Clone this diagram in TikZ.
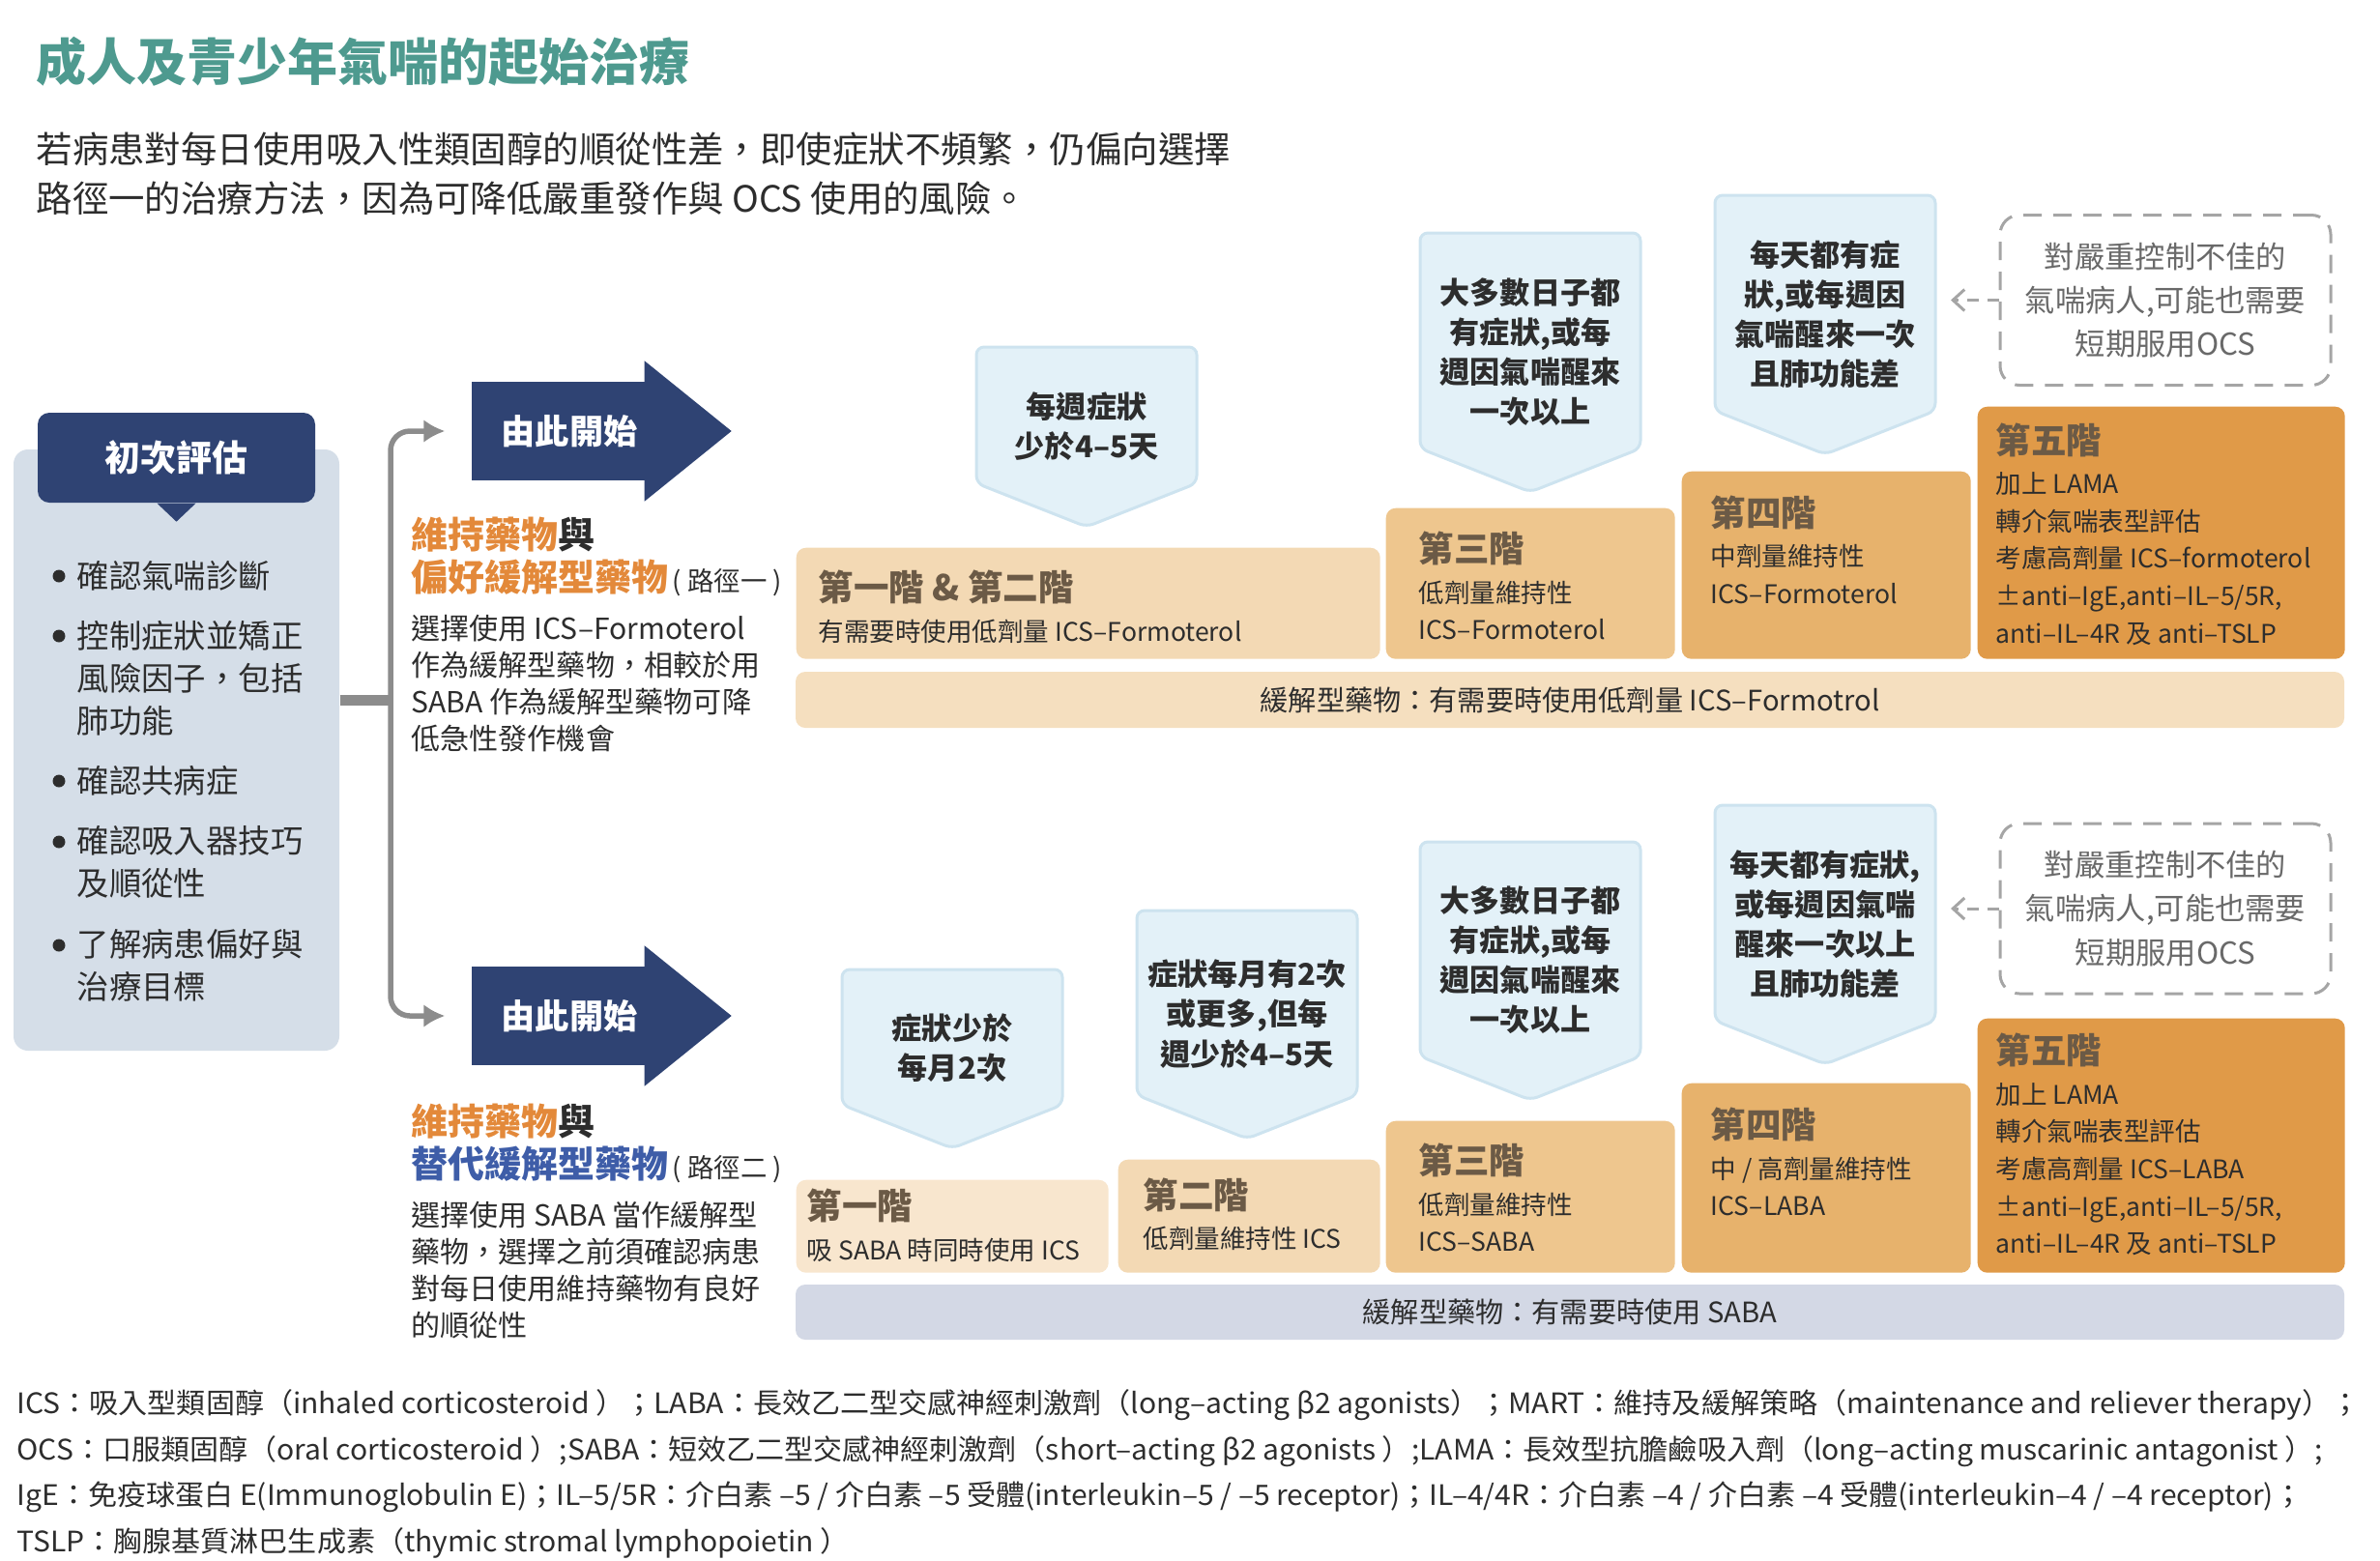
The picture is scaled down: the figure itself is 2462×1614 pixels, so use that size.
\documentclass[tikz,border=0pt]{standalone}
\usepackage{fontspec}
\setmainfont{Noto Sans CJK TC}
\newfontfamily\notefont[FakeStretch=1.03]{Noto Sans CJK TC}
\usetikzlibrary{calc, positioning, arrows.meta}
\definecolor{asthteal}{RGB}{78,154,143}
\definecolor{asthnavy}{RGB}{47,67,115}
\definecolor{asthpanel}{RGB}{213,222,232}
\definecolor{asthink}{RGB}{45,45,45}
\definecolor{asthorange}{RGB}{227,137,58}
\definecolor{asthblue}{RGB}{62,93,168}
\definecolor{asthlink}{RGB}{140,140,140}
\definecolor{asthsky}{RGB}{227,241,248}
\definecolor{asthskyline}{RGB}{205,227,239}
\definecolor{ocsline}{RGB}{165,165,165}
\definecolor{ocsink}{RGB}{105,105,105}
\definecolor{stepa}{RGB}{248,230,206}
\definecolor{stepb}{RGB}{243,217,180}
\definecolor{stepc}{RGB}{238,198,142}
\definecolor{stepd}{RGB}{231,178,108}
\definecolor{stepe}{RGB}{224,154,72}
\definecolor{reliefa}{RGB}{245,223,191}
\definecolor{reliefb}{RGB}{211,216,229}
\definecolor{stepink}{RGB}{107,90,70}
\newcommand{\steptitle}[1]{{\bfseries\fontsize{10.4}{11}\selectfont\color{stepink}#1}}
\newcommand{\pathnote}[1]{{\mdseries\fontsize{7.8}{12.5}\selectfont\color{asthink}#1}}
\tikzset{
    panelbox/.style={fill=asthpanel, rounded corners=1.5mm, minimum width=33.7mm, minimum height=62.2mm, inner sep=0pt},
    headbox/.style={fill=asthnavy, rounded corners=1.2mm, text=white, font=\bfseries\fontsize{10.5}{12}\selectfont, minimum width=28.7mm, minimum height=9.3mm, inner sep=0pt},
    bulletdot/.style={circle, fill=asthink, minimum size=1.3mm, inner sep=0pt},
    bullettext/.style={anchor=west, align=left, inner sep=0pt, text=asthink, font=\fontsize{9.5}{12.5}\selectfont},
    linkstub/.style={draw=asthlink, line width=1.1mm},
    linkarrow/.style={-{Latex[length=2.2mm, width=2.4mm]}, draw=asthlink, line width=0.55mm, rounded corners=2mm},
    startbox/.style={fill=asthnavy, text=white, font=\bfseries\fontsize{10}{12}\selectfont, minimum width=20.2mm, minimum height=10.2mm, inner sep=0pt},
    pathhead/.style={anchor=west, align=left, inner sep=0pt, text=asthink, font=\bfseries\fontsize{10.8}{12.5}\selectfont},
    pathbody/.style={anchor=west, align=left, inner sep=0pt, text=asthink, font=\fontsize{8.55}{10.8}\selectfont},
    stepbox/.style={anchor=north west, rounded corners=1mm, inner sep=0pt},
    steptext/.style={anchor=west, align=left, inner sep=0pt, text=asthink, font=\fontsize{7.55}{11}\selectfont},
    reliefbar/.style={rounded corners=1mm, inner sep=0pt, minimum width=160.2mm, minimum height=5.8mm, text=asthink, font=\fontsize{8.3}{10}\selectfont},
    sympent/.style={fill=asthsky, draw=asthskyline, line width=0.3mm, rounded corners=0.8mm},
    symtext/.style={align=center, inner sep=0pt, text=asthink, font=\bfseries\fontsize{8.85}{11.7}\selectfont},
    ocsbox/.style={draw=ocsline, line width=0.3mm, dash pattern=on 1.9mm off 1.2mm, rounded corners=2mm, minimum width=34.2mm, minimum height=17.6mm, align=center, text=ocsink, font=\fontsize{8.9}{12.9}\selectfont},
    ocsarrow/.style={-{Straight Barb[length=1.2mm, width=2.2mm]}, draw=ocsline, line width=0.3mm, dash pattern=on 1.2mm off 0.9mm},
    note/.style={anchor=west, align=left, inner sep=0pt, text=asthink, font=\notefont\fontsize{8.3}{13.6}\selectfont}
}
\begin{document}
\begin{tikzpicture}[x=0.1mm,y=-0.1mm]
    \useasboundingbox (0,0) rectangle (2462,1614);
    % title and intro
    \node[anchor=west, inner sep=0pt, text=asthteal, font=\bfseries\fontsize{14.8}{16}\selectfont] (title) at (37,64) {成人及青少年氣喘的起始治療};
    \node[anchor=west, align=left, inner sep=0pt, text=asthink, font=\fontsize{10.65}{14.5}\selectfont] (intro) at (37,179.5) {若病患對每日使用吸入性類固醇的順從性差，即使症狀不頻繁，仍偏向選擇\\路徑一的治療方法，因為可降低嚴重發作與 OCS 使用的風險。};

    % initial assessment
    \node[panelbox] (panel) at (182.5,776) {};
    \node[headbox] (asmt) at (182.5,473.5) {初次評估};
    \fill[asthnavy] ([xshift=-2mm]asmt.south) -- ([xshift=2mm]asmt.south) -- ([yshift=-1.9mm]asmt.south) -- cycle;
    \foreach \yd/\yt/\txt [count=\i] in {596/596/確認氣喘診斷, 658/702/{控制症狀並矯正\\風險因子，包括\\肺功能}, 808/808/確認共病症, 871/892/{確認吸入器技巧\\及順從性}, 978/999/{了解病患偏好與\\治療目標}} {
        \node[bulletdot] (dot\i) at (61,\yd) {};
        \node[bullettext] (item\i) at (79,\yt) {\txt};
    }

    % start arrows
    \node[startbox] (start1) at (589,446) {由此開始};
    \fill[asthnavy] ([xshift=-2.4mm, yshift=2.1mm]start1.north east) -- ([xshift=6.6mm]start1.east) -- ([xshift=-2.4mm, yshift=-2.1mm]start1.south east) -- cycle;
    \node[startbox] (start2) at (589,1051) {由此開始};
    \fill[asthnavy] ([xshift=-2.4mm, yshift=2.1mm]start2.north east) -- ([xshift=6.6mm]start2.east) -- ([xshift=-2.4mm, yshift=-2.1mm]start2.south east) -- cycle;
    \coordinate (split) at (404,724);
    \draw[linkstub] (panel.east |- split) -- (split);
    \draw[linkarrow] (split) |- ([xshift=-2.7mm]start1.west);
    \draw[linkarrow] (split) |- ([xshift=-2.7mm]start2.west);

    % track texts
    \node[pathhead] (head1) at (425,576) {\textcolor{asthorange}{維持藥物}與\\\textcolor{asthorange}{偏好緩解型藥物}\pathnote{\,( 路徑一 )}};
    \node[pathbody] (body1) at (425,707) {選擇使用 ICS–Formoterol\\作為緩解型藥物，相較於用\\SABA 作為緩解型藥物可降\\低急性發作機會};
    \node[pathhead] (head2) at (425,1182.5) {\textcolor{asthorange}{維持藥物}與\\\textcolor{asthblue}{替代緩解型藥物}\pathnote{\,( 路徑二 )}};
    \node[pathbody] (body2) at (425,1314.5) {選擇使用 SABA 當作緩解型\\藥物，選擇之前須確認病患\\對每日使用維持藥物有良好\\的順從性};

    % steps, track one
    \node[stepbox, fill=stepb, minimum width=60.4mm, minimum height=11.5mm] (s12a) at (823,566) {};
    \node[stepbox, fill=stepc, minimum width=29.9mm, minimum height=15.6mm] (s3a) at (1433,525) {};
    \node[stepbox, fill=stepd, minimum width=29.9mm, minimum height=19.4mm] (s4a) at (1739,487) {};
    \node[stepbox, fill=stepe, minimum width=38mm, minimum height=26.1mm] (s5a) at (2045,420) {};
    \node[steptext] (s12atxt) at (846,628) {\steptitle{第一階 \& 第二階}\\[0.8pt]有需要時使用低劑量 ICS–Formoterol};
    \node[steptext] (s3atxt) at (1467,606) {\steptitle{第三階}\\[0.8pt]低劑量維持性\\ICS–Formoterol};
    \node[steptext] (s4atxt) at (1769,568.5) {\steptitle{第四階}\\[0.8pt]中劑量維持性\\ICS–Formoterol};
    \node[steptext] (s5atxt) at (2064,552.5) {\steptitle{第五階}\\[0.8pt]加上 LAMA\\轉介氣喘表型評估\\考慮高劑量 ICS–formoterol\\±anti–IgE,anti–IL–5/5R,\\anti–IL–4R 及 anti–TSLP};
    \node[reliefbar, fill=reliefa] (rela) at (1624,724) {緩解型藥物：有需要時使用低劑量 ICS–Formotrol};

    % steps, track two
    \node[stepbox, fill=stepa, minimum width=32.3mm, minimum height=9.6mm] (s1b) at (823,1220) {};
    \node[stepbox, fill=stepb, minimum width=27.1mm, minimum height=11.7mm] (s2b) at (1156,1199) {};
    \node[stepbox, fill=stepc, minimum width=29.9mm, minimum height=15.7mm] (s3b) at (1433,1159) {};
    \node[stepbox, fill=stepd, minimum width=29.9mm, minimum height=19.6mm] (s4b) at (1739,1120) {};
    \node[stepbox, fill=stepe, minimum width=38mm, minimum height=26.3mm] (s5b) at (2045,1053) {};
    \node[steptext] (s1btxt) at (834,1268) {\steptitle{第一階}\\[0.8pt]吸 SABA 時同時使用 ICS};
    \node[steptext] (s2btxt) at (1182,1256) {\steptitle{第二階}\\[0.8pt]低劑量維持性 ICS};
    \node[steptext] (s3btxt) at (1467,1239) {\steptitle{第三階}\\[0.8pt]低劑量維持性\\ICS–SABA};
    \node[steptext] (s4btxt) at (1769,1202) {\steptitle{第四階}\\[0.8pt]中 / 高劑量維持性\\ICS–LABA};
    \node[steptext] (s5btxt) at (2064,1184) {\steptitle{第五階}\\[0.8pt]加上 LAMA\\轉介氣喘表型評估\\考慮高劑量 ICS–LABA\\±anti–IgE,anti–IL–5/5R,\\anti–IL–4R 及 anti–TSLP};
    \node[reliefbar, fill=reliefb, minimum height=5.7mm] (relb) at (1624,1357.5) {緩解型藥物：有需要時使用 SABA};

    % symptom tags
    \foreach \nm/\cx/\yt/\yb/\txt in {
        p2a/1124/359/545/{每週症狀\\少於4–5天},
        p3a/1583/241/509/{大多數日子都\\有症狀,或每\\週因氣喘醒來\\一次以上},
        p4a/1888/202/470/{每天都有症\\狀,或每週因\\氣喘醒來一次\\且肺功能差},
        p1b/985/1003/1188/{症狀少於\\每月2次},
        p2b/1290/942/1178/{症狀每月有2次\\或更多,但每\\週少於4–5天},
        p3b/1583/871/1138/{大多數日子都\\有症狀,或每\\週因氣喘醒來\\一次以上},
        p4b/1888/833/1101/{每天都有症狀,\\或每週因氣喘\\醒來一次以上\\且肺功能差}} {
        \draw[sympent] (\cx-114,\yt) -- (\cx+114,\yt) -- (\cx+114,\yb-45) -- (\cx,\yb) -- (\cx-114,\yb-45) -- cycle;
        \node[symtext] (\nm) at (\cx,{(\yt+\yb)/2-11}) {\txt};
        \coordinate (\nm r) at (\cx+130,\yt);
    }

    % oral steroid notes
    \node[ocsbox] (ocsa) at (2240,310.5) {對嚴重控制不佳的\\氣喘病人,可能也需要\\短期服用OCS};
    \node[ocsbox] (ocsb) at (2240,940) {對嚴重控制不佳的\\氣喘病人,可能也需要\\短期服用OCS};
    \draw[ocsarrow] (ocsa.west) -- (ocsa.west -| p4ar);
    \draw[ocsarrow] (ocsb.west) -- (ocsb.west -| p4br);

    % abbreviations
    \node[note] (abbr) at (17,1525) {ICS：吸入型類固醇（inhaled corticosteroid ）；LABA：長效乙二型交感神經刺激劑（long–acting β2 agonists）；MART：維持及緩解策略（maintenance and reliever therapy）；\\OCS：口服類固醇（oral corticosteroid ）;SABA：短效乙二型交感神經刺激劑（short–acting β2 agonists ）;LAMA：長效型抗膽鹼吸入劑（long–acting muscarinic antagonist ）;\\IgE：免疫球蛋白 E(Immunoglobulin E)；IL–5/5R：介白素 –5 / 介白素 –5 受體(interleukin–5 / –5 receptor)；IL–4/4R：介白素 –4 / 介白素 –4 受體(interleukin–4 / –4 receptor)；\\TSLP：胸腺基質淋巴生成素（thymic stromal lymphopoietin ）};
\end{tikzpicture}
\end{document}
